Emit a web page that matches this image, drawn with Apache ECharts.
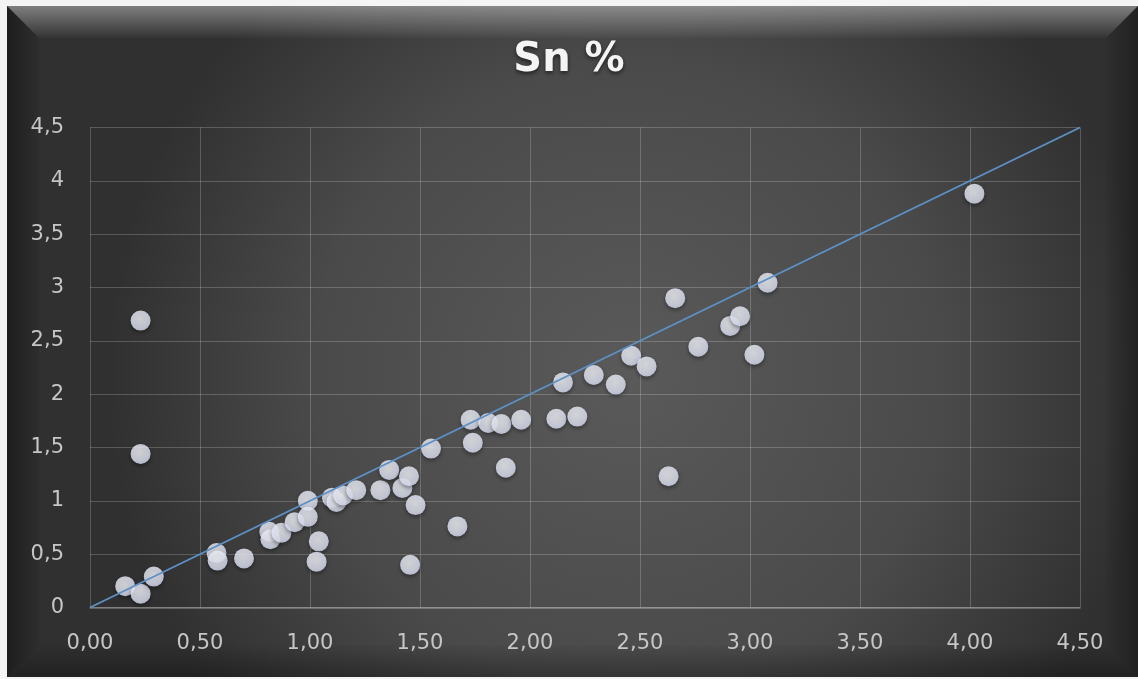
<!DOCTYPE html>
<html>
<head>
<meta charset="utf-8">
<script src="https://cdn.jsdelivr.net/npm/echarts@6/dist/echarts.min.js"></script>
<style>
  html, body { margin: 0; padding: 0; background: #f4f4f4; }
  #chart { width: 1138px; height: 679px; }
</style>
</head>
<body>
<div id="chart"></div>
<script>
// Sn % measured (x) against reference (y)
const snX = [0.16, 0.23, 0.29, 0.23, 0.23, 0.575, 0.58, 0.70, 0.815, 0.82,
             0.87, 0.93, 0.99, 0.99, 1.04, 1.03, 1.10, 1.12, 1.15, 1.21,
             1.32, 1.36, 1.42, 1.45, 1.48, 1.455, 1.55, 1.67, 1.73, 1.74,
             1.81, 1.87, 1.89, 1.96, 2.12, 2.215, 2.15, 2.29, 2.39, 2.46,
             2.53, 2.63, 2.66, 2.765, 2.91, 2.955, 3.02, 3.08, 4.02];
const snY = [0.20, 0.13, 0.29, 2.69, 1.44, 0.51, 0.44, 0.46, 0.71, 0.64,
             0.70, 0.80, 1.00, 0.85, 0.62, 0.43, 1.03, 0.99, 1.05, 1.10,
             1.10, 1.29, 1.12, 1.23, 0.96, 0.40, 1.49, 0.76, 1.76, 1.545,
             1.73, 1.72, 1.31, 1.76, 1.77, 1.79, 2.11, 2.18, 2.09, 2.36,
             2.26, 1.23, 2.90, 2.445, 2.64, 2.73, 2.37, 3.045, 3.88];
// 1:1 reference line
const lineX = [0, 4.5];
const lineY = [0, 4.5];
const axisMin = 0, axisMax = 4.5, axisStep = 0.5;

const points = snX.map((x, i) => [x, snY[i]]);
const diag = lineX.map((x, i) => [x, lineY[i]]);

const W = 1138, H = 679;
const L = 7, T = 6, R = W, B = H - 2, BV = 32;

const chart = echarts.init(document.getElementById('chart'), null, { renderer: 'canvas' });
const labelFont = { color: '#c6c6c6', fontSize: 21, fontFamily: 'DejaVu Sans' };

chart.setOption({
  backgroundColor: 'transparent',
  title: {
    text: 'Sn %',
    left: 'center',
    top: 36,
    textStyle: {
      color: '#f4f4f4', fontSize: 40, fontWeight: 'bold', fontFamily: 'DejaVu Sans',
      textShadowColor: 'rgba(0,0,0,0.6)', textShadowBlur: 4, textShadowOffsetY: 2
    }
  },
  graphic: [
    {
      type: 'rect', z: -20, silent: true,
      shape: { x: L, y: T, width: R - L, height: B - T },
      style: {
        fill: {
          type: 'radial', x: 0.55, y: 0.55, r: 0.78,
          colorStops: [
            { offset: 0, color: '#5a5a5a' },
            { offset: 0.6, color: '#4a4a4a' },
            { offset: 1, color: '#303030' }
          ]
        }
      }
    },
    {
      type: 'polygon', z: -19, silent: true,
      shape: { points: [[L, T], [R, T], [R - BV, T + BV], [L + BV, T + BV]] },
      style: {
        fill: {
          type: 'linear', x: 0, y: 0, x2: 0, y2: 1,
          colorStops: [
            { offset: 0, color: 'rgba(255,255,255,0.38)' },
            { offset: 1, color: 'rgba(255,255,255,0.02)' }
          ]
        }
      }
    },
    {
      type: 'polygon', z: -19, silent: true,
      shape: { points: [[L, T], [L + BV, T + BV], [L + BV, B - BV], [L, B]] },
      style: {
        fill: {
          type: 'linear', x: 0, y: 0, x2: 1, y2: 0,
          colorStops: [
            { offset: 0, color: 'rgba(0,0,0,0.38)' },
            { offset: 1, color: 'rgba(0,0,0,0.05)' }
          ]
        }
      }
    },
    {
      type: 'polygon', z: -19, silent: true,
      shape: { points: [[R, T], [R, B], [R - BV, B - BV], [R - BV, T + BV]] },
      style: {
        fill: {
          type: 'linear', x: 1, y: 0, x2: 0, y2: 0,
          colorStops: [
            { offset: 0, color: 'rgba(0,0,0,0.32)' },
            { offset: 1, color: 'rgba(0,0,0,0.03)' }
          ]
        }
      }
    },
    {
      type: 'polygon', z: -19, silent: true,
      shape: { points: [[L, B], [L + BV, B - BV], [R - BV, B - BV], [R, B]] },
      style: {
        fill: {
          type: 'linear', x: 0, y: 1, x2: 0, y2: 0,
          colorStops: [
            { offset: 0, color: 'rgba(0,0,0,0.3)' },
            { offset: 1, color: 'rgba(0,0,0,0.02)' }
          ]
        }
      }
    }
  ],
  grid: { left: 90, right: 58, top: 127.5, bottom: 71.5, containLabel: false },
  xAxis: {
    type: 'value', min: axisMin, max: axisMax, interval: axisStep,
    axisLine: { show: true, lineStyle: { color: 'rgba(255,255,255,0.32)', width: 1.5 } },
    axisTick: { show: false },
    splitLine: { show: true, lineStyle: { color: 'rgba(255,255,255,0.2)', width: 1 } },
    axisLabel: {
      ...labelFont, margin: 26,
      formatter: v => v.toFixed(2).replace('.', ',')
    }
  },
  yAxis: {
    type: 'value', min: axisMin, max: axisMax, interval: axisStep,
    axisLine: { show: false },
    axisTick: { show: false },
    splitLine: { show: true, lineStyle: { color: 'rgba(255,255,255,0.2)', width: 1 } },
    axisLabel: {
      ...labelFont, margin: 26,
      formatter: v => String(v).replace('.', ',')
    }
  },
  series: [
    {
      type: 'scatter',
      data: points,
      symbol: 'circle',
      symbolSize: 20,
      z: 3,
      itemStyle: {
        color: {
          type: 'radial', x: 0.45, y: 0.4, r: 0.62,
          colorStops: [
            { offset: 0, color: '#fafbff' },
            { offset: 0.75, color: '#e6eafa' },
            { offset: 1, color: '#d6dcf3' }
          ]
        },
        shadowColor: 'rgba(0,0,0,0.5)', shadowBlur: 4, shadowOffsetY: 2
      }
    },
    {
      type: 'line',
      data: diag,
      showSymbol: false,
      z: 4,
      lineStyle: { color: '#5d91c6', width: 1.8 }
    }
  ]
});
</script>
</body>
</html>
